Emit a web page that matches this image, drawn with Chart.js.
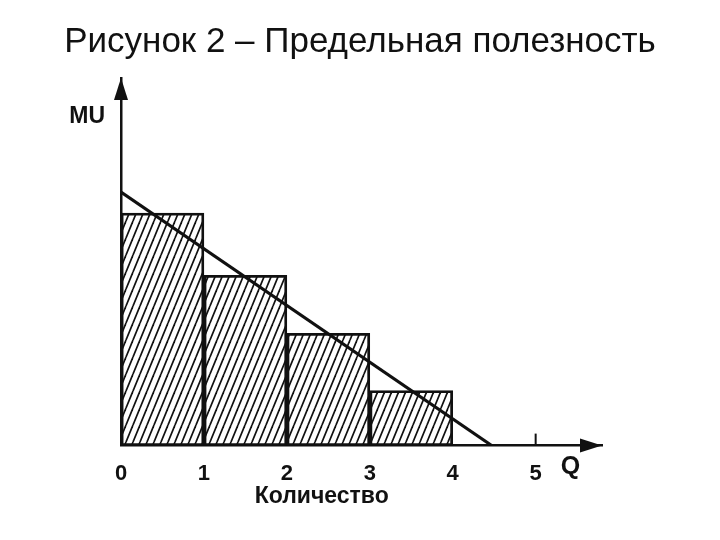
<!DOCTYPE html>
<html><head><meta charset="utf-8">
<script src="https://cdn.jsdelivr.net/npm/chart.js@4/dist/chart.umd.min.js"></script>
<style>html,body{margin:0;padding:0;background:#fff}#wrap{width:720px;height:540px}</style>
</head><body><div id="wrap"><canvas id="c" width="720" height="540"></canvas></div>
<script>
const titleText = 'Рисунок 2 – Предельная полезность';
const xTitle = 'Количество';
const yLabel = 'MU';
const xLabel = 'Q';
const xTickValues = [0, 1, 2, 3, 4, 5];
const barCenters = [0.5, 1.5, 2.5, 3.5];
const marginalUtility = [9.17, 6.72, 4.43, 2.17];
const lineQ = [0, 4.47];
const lineMU = [10, 0];

const FONT = 'Arial, Helvetica, sans-serif';

function hatch() {
  const w = 7, h = 17;
  const c = document.createElement('canvas');
  c.width = w; c.height = h;
  const g = c.getContext('2d');
  g.fillStyle = '#fff'; g.fillRect(0, 0, w, h);
  g.strokeStyle = '#111'; g.lineWidth = 1.7;
  for (const o of [-w, 0, w]) {
    g.beginPath(); g.moveTo(o, h); g.lineTo(o + w, 0); g.stroke();
  }
  return g.createPattern(c, 'repeat');
}

const deco = {
  id: 'deco',
  afterDraw(chart) {
    const { ctx, chartArea: a, scales: { x, y } } = chart;
    ctx.save();
    ctx.fillStyle = '#111';
    ctx.beginPath();
    ctx.moveTo(a.left, a.top);
    ctx.lineTo(a.left - 7, a.top + 22);
    ctx.lineTo(a.left + 7, a.top + 22);
    ctx.closePath(); ctx.fill();
    ctx.beginPath();
    ctx.moveTo(a.right, a.bottom);
    ctx.lineTo(a.right - 22, a.bottom - 7);
    ctx.lineTo(a.right - 22, a.bottom + 7);
    ctx.closePath(); ctx.fill();
    ctx.strokeStyle = '#111'; ctx.lineWidth = 2;
    const p5 = x.getPixelForValue(5);
    ctx.beginPath(); ctx.moveTo(p5, a.bottom); ctx.lineTo(p5, a.bottom - 12); ctx.stroke();
    ctx.font = 'bold 23px ' + FONT;
    ctx.textBaseline = 'middle';
    ctx.textAlign = 'right';
    ctx.fillText(yLabel, a.left - 16, y.getPixelForValue(12.96));
    ctx.textAlign = 'center';
    ctx.font = 'bold 25px ' + FONT;
    ctx.fillText(xLabel, x.getPixelForValue(5.42), a.bottom + 22);
    ctx.font = 'bold 23px ' + FONT;
    ctx.fillText(xTitle, x.getPixelForValue(2.42), a.bottom + 51);
    ctx.restore();
  }
};

new Chart(document.getElementById('c'), {
  type: 'bar',
  data: {
    datasets: [
      {
        type: 'line',
        data: lineQ.map((q, i) => ({ x: q, y: lineMU[i] })),
        borderColor: '#111', borderWidth: 3, pointRadius: 0, fill: false, order: 0
      },
      {
        type: 'bar',
        data: barCenters.map((q, i) => ({ x: q, y: marginalUtility[i] })),
        backgroundColor: hatch(),
        borderColor: '#111', borderWidth: 2.8, borderSkipped: false,
        barPercentage: 1, categoryPercentage: 1, order: 1
      }
    ]
  },
  options: {
    responsive: false, animation: false,
    layout: { padding: { left: 0, right: 0, top: 0, bottom: 38 } },
    plugins: {
      legend: { display: false }, tooltip: { enabled: false },
      title: {
        display: true, text: titleText, color: '#111',
        font: { family: FONT, size: 35, weight: 'normal', lineHeight: 1.15 },
        padding: { top: 22, bottom: 15.75 }
      }
    },
    scales: {
      x: {
        type: 'linear', min: 0, max: 5.8, offset: false,
        afterBuildTicks: ax => { ax.ticks = xTickValues.map(v => ({ value: v })); },
        grid: { display: false, drawTicks: false },
        border: { display: true, color: '#111', width: 2.5 },
        ticks: { color: '#111', padding: 15, autoSkip: false, maxRotation: 0,
          font: { family: FONT, size: 22, weight: 'bold' } }
      },
      y: {
        position: 'left', min: 0, max: 14.5,
        grid: { display: false, drawTicks: false },
        border: { display: true, color: '#111', width: 2.5 },
        ticks: { display: false },
        afterFit: s => { s.width = 121; }
      },
      yR: {
        position: 'right', min: 0, max: 1,
        grid: { display: false, drawTicks: false },
        border: { display: false },
        ticks: { display: false },
        afterFit: s => { s.width = 118; }
      }
    }
  },
  plugins: [deco]
});
</script></body></html>
